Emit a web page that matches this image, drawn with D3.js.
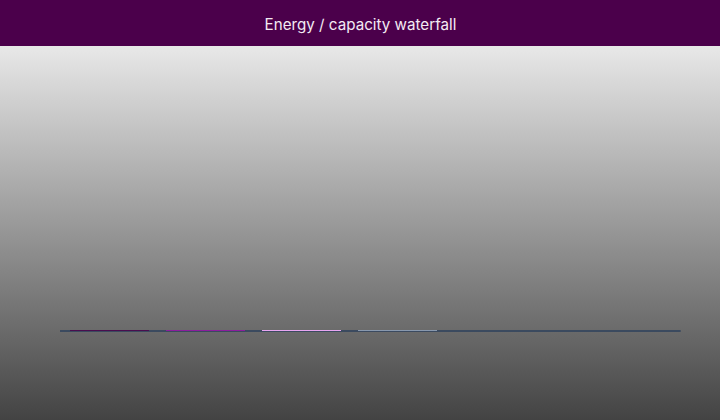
<!DOCTYPE html>
<html>
<head>
<meta charset="utf-8">
<script src="https://cdn.jsdelivr.net/npm/d3@7/dist/d3.min.js"></script>
<style>
html,body{margin:0;padding:0;background:#444;}
svg{display:block;}
</style>
</head>
<body>
<svg id="chart" width="720" height="420"></svg>
<script>
const title = "Energy / capacity waterfall";
const categories = ["Start", "Solar", "Wind", "Storage"];
const deltas = [0.2, 0.15, 0.1, 0.12];
const yDomainMax = [1000];
const barColors = ["#4a0e4e", "#8c1e9c", "#e9a6f1", "#8898ae"];

const W = 720, H = 420;
const svg = d3.select("#chart");

const defs = svg.append("defs");
const grad = defs.append("linearGradient").attr("id","bg").attr("x1",0).attr("y1",0).attr("x2",0).attr("y2",1);
grad.append("stop").attr("offset","0%").attr("stop-color","#e8e8e8");
grad.append("stop").attr("offset","100%").attr("stop-color","#434343");

svg.append("rect").attr("x",0).attr("y",46).attr("width",W).attr("height",H-46).attr("fill","url(#bg)");
svg.append("rect").attr("x",0).attr("y",0).attr("width",W).attr("height",46).attr("fill","#4b004b");
svg.append("text").attr("x",W/2+0.5).attr("y",29.5).attr("text-anchor","middle")
  .attr("font-family","Inter, 'Noto Sans', sans-serif").attr("font-size",15.2)
  .attr("fill","#f3eaf3").text(title);

const m = {left:60, right:40, top:60, bottom:89};
const x = d3.scaleBand().domain(categories).range([70, 437]).paddingInner(17/96).paddingOuter(0);
const y = d3.scaleLinear().domain([0, yDomainMax[0]]).range([H - m.bottom, m.top]);

let cum = 0;
const bars = categories.map((c,i) => { const s = cum; cum += deltas[i]; return {c, s, e: cum, color: barColors[i]}; });

// baseline
const xAxisScale = d3.scaleLinear().domain([0,1]).range([m.left, W - m.right + 0.7]);
svg.append("line").attr("x1", xAxisScale(0)).attr("x2", xAxisScale(1))
  .attr("y1", y(0)).attr("y2", y(0)).attr("stroke","#3b4a5f").attr("stroke-width",2);

svg.append("g").selectAll("rect").data(bars).join("rect")
  .attr("x", d => x(d.c))
  .attr("width", x.bandwidth())
  .attr("y", d => {
    const a = Math.round(y(d.s)), b = Math.round(y(d.e));
    const h = Math.abs(a-b);
    return h >= 1 ? Math.min(a,b) : a - 1;
  })
  .attr("height", d => Math.max(1, Math.abs(Math.round(y(d.s)) - Math.round(y(d.e)))))
  .attr("fill", d => d.color);
</script>
</body>
</html>
